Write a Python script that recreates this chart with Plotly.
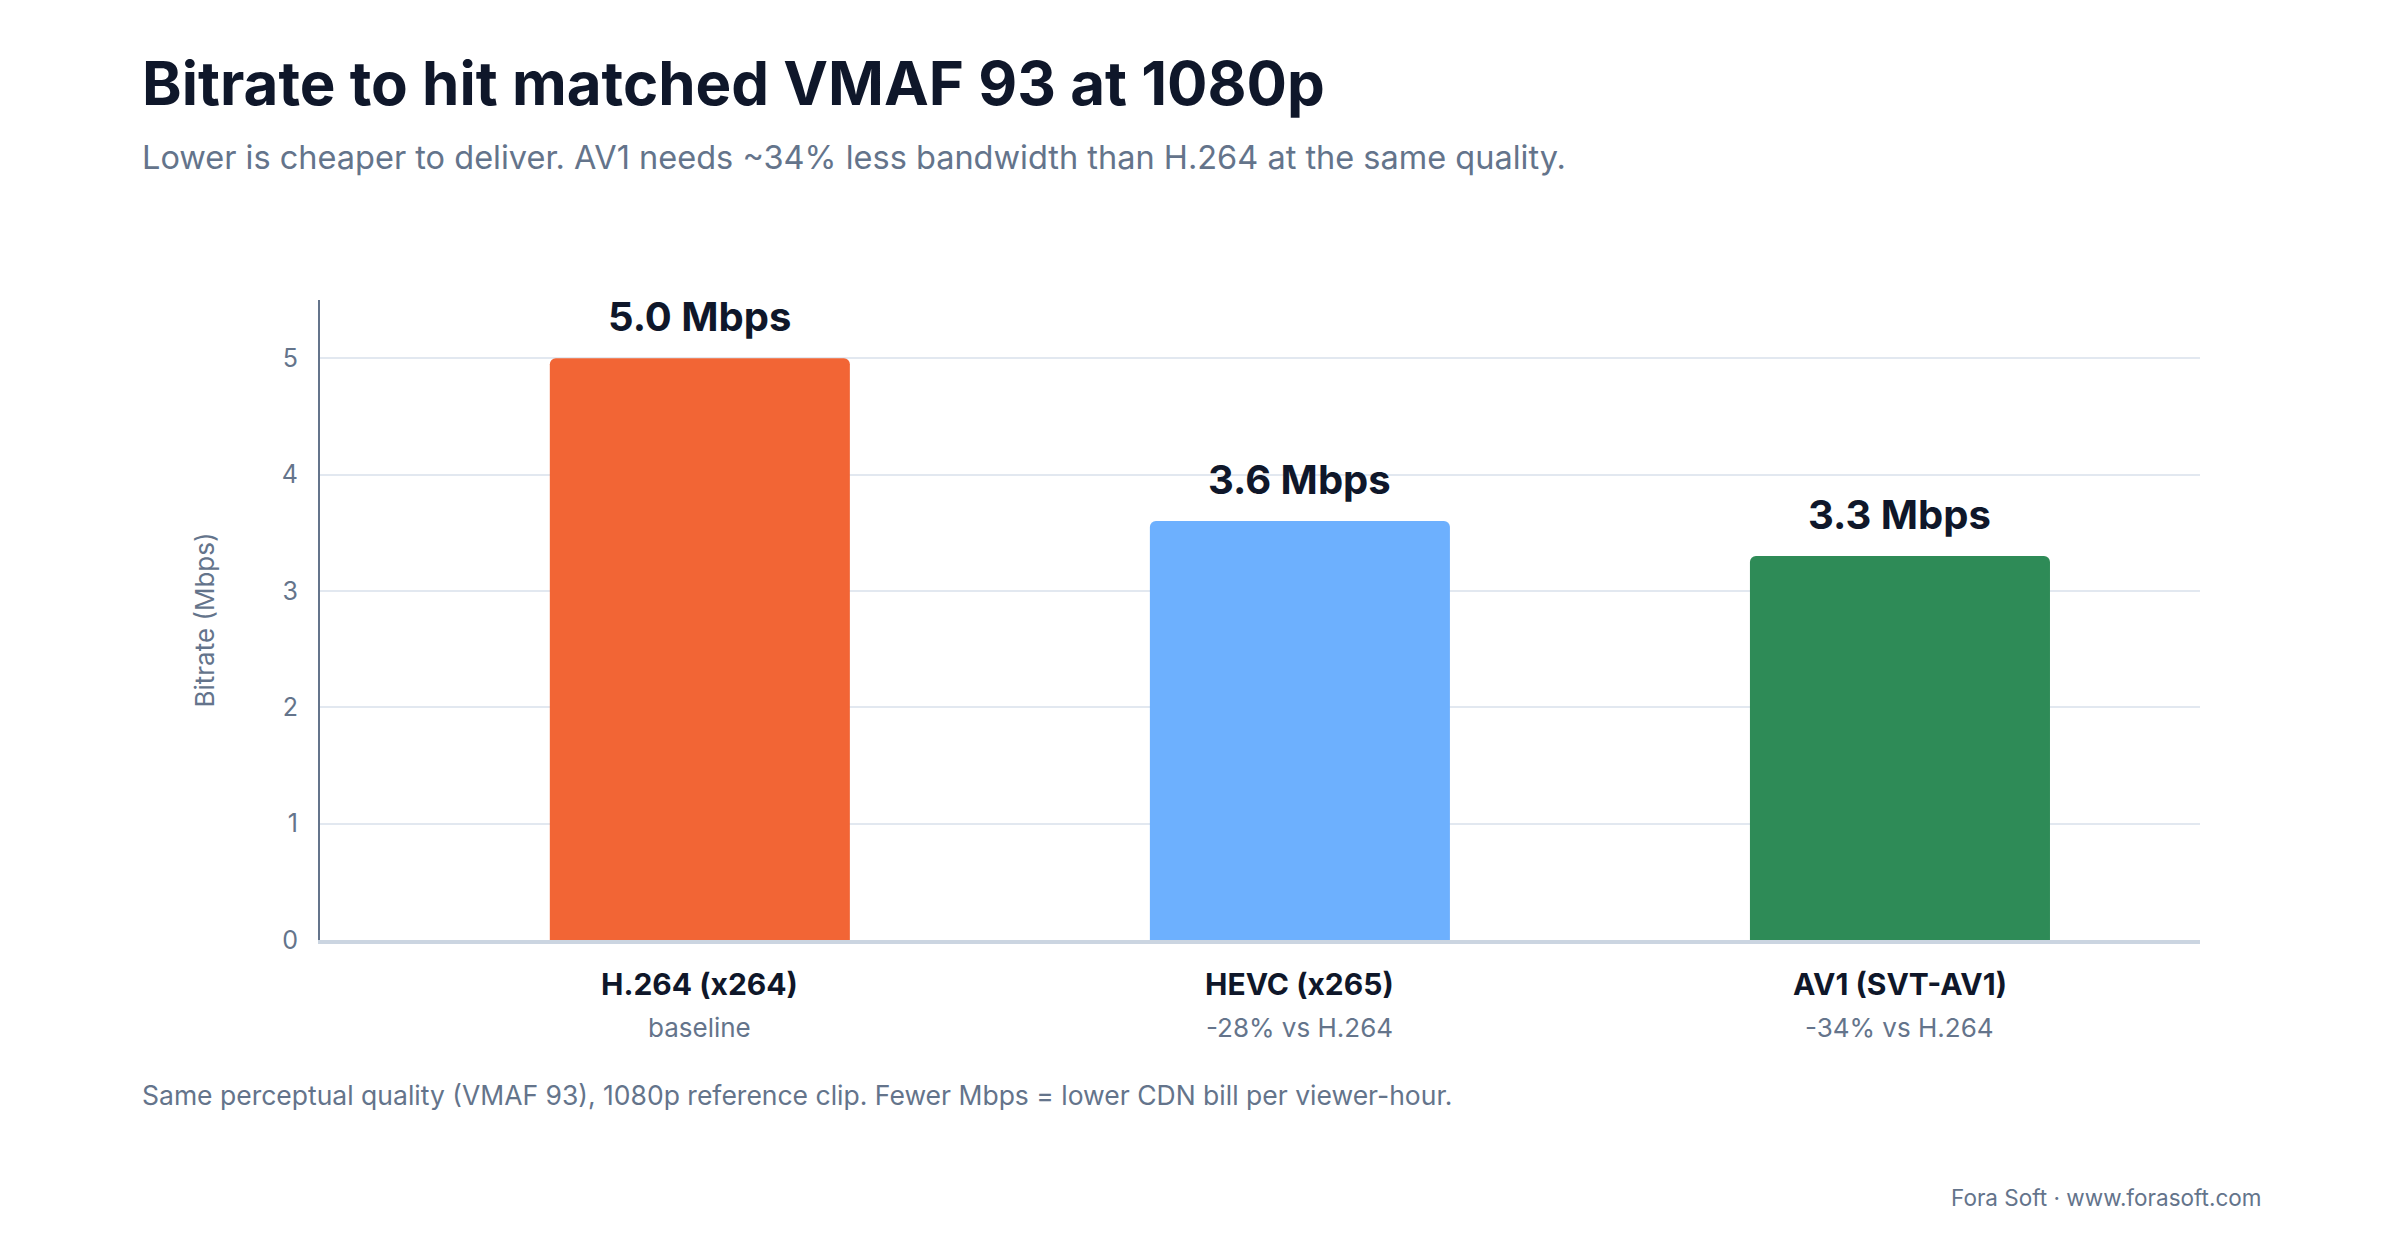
"""Bitrate to hit matched VMAF 93 at 1080p — bar chart."""

import plotly.graph_objects as go

codecs = ["H.264 (x264)", "HEVC (x265)", "AV1 (SVT-AV1)"]
bitrate_mbps = [5.0, 3.6, 3.3]
vs_baseline = ["baseline", "-28% vs H.264", "-34% vs H.264"]
bar_colors = ["#F26535", "#6DB0FE", "#2E8B57"]
y_ticks = [0, 1, 2, 3, 4, 5]

_FONT = "Inter, Roboto, sans-serif"
_DARK = "#0f172a"
_GREY = "#64748b"

fig = go.Figure(
    go.Bar(
        x=list(range(len(codecs))),
        y=bitrate_mbps,
        marker=dict(color=bar_colors, cornerradius=6, line=dict(width=0)),
        width=0.5,
        hoverinfo="skip",
    )
)

# подписи значений над столбцами
for i, v in enumerate(bitrate_mbps):
    fig.add_annotation(
        x=i, y=v, xref="x", yref="y", text=f"<b>{v:.1f} Mbps</b>",
        showarrow=False, yanchor="bottom", yshift=15,
        font=dict(family=_FONT, size=40, color=_DARK),
    )

# подписи категорий (две строки)
for i, (name, sub) in enumerate(zip(codecs, vs_baseline)):
    fig.add_annotation(
        x=i, y=-0.068, xref="x", yref="paper", text=f"<b>{name}</b>",
        showarrow=False, yanchor="middle",
        font=dict(family=_FONT, size=30, color=_DARK),
    )
    fig.add_annotation(
        x=i, y=-0.137, xref="x", yref="paper", text=sub,
        showarrow=False, yanchor="middle",
        font=dict(family=_FONT, size=26, color=_GREY),
    )

texts = [
    (-0.0957, 1.339, "left", "<b>Bitrate to hit matched VMAF 93 at 1080p</b>", 60, _DARK),
    (-0.0957, 1.223, "left",
     "Lower is cheaper to deliver. AV1 needs ~34% less bandwidth than H.264 at the same quality.",
     32.5, _GREY),
    (-0.0957, -0.242, "left",
     "Same perceptual quality (VMAF 93), 1080p reference clip. Fewer Mbps = lower CDN bill per viewer-hour.",
     26.5, _GREY),
    (1.0335, -0.403, "right", "Fora Soft · www.forasoft.com", 22.5, _GREY),
]
for x, y, anchor, text, size, color in texts:
    fig.add_annotation(
        x=x, y=y, xref="paper", yref="paper", text=text, showarrow=False,
        xanchor=anchor, yanchor="middle",
        font=dict(family=_FONT, size=size, color=color),
    )

fig.update_layout(
    width=2400, height=1240,
    margin=dict(l=312, r=208, t=292, b=308),
    paper_bgcolor="white", plot_bgcolor="white",
    showlegend=False,
    font=dict(family=_FONT, color=_GREY),
    xaxis=dict(
        range=[-0.633, 2.5], showticklabels=False, showgrid=False,
        zeroline=False, showline=True, linecolor="#cbd5e1", linewidth=4,
        fixedrange=True,
    ),
    yaxis=dict(
        range=[0, 5.5], tickvals=y_ticks, showgrid=True, gridcolor="#e2e8f0",
        gridwidth=2, zeroline=False, showline=True, linecolor=_GREY, linewidth=2,
        tickfont=dict(family=_FONT, size=25, color=_GREY), ticklabelstandoff=15,
        title=dict(text="Bitrate (Mbps)", font=dict(family=_FONT, size=26, color=_GREY),
                   standoff=60),
        fixedrange=True,
    ),
)

fig.write_html("out.html")
